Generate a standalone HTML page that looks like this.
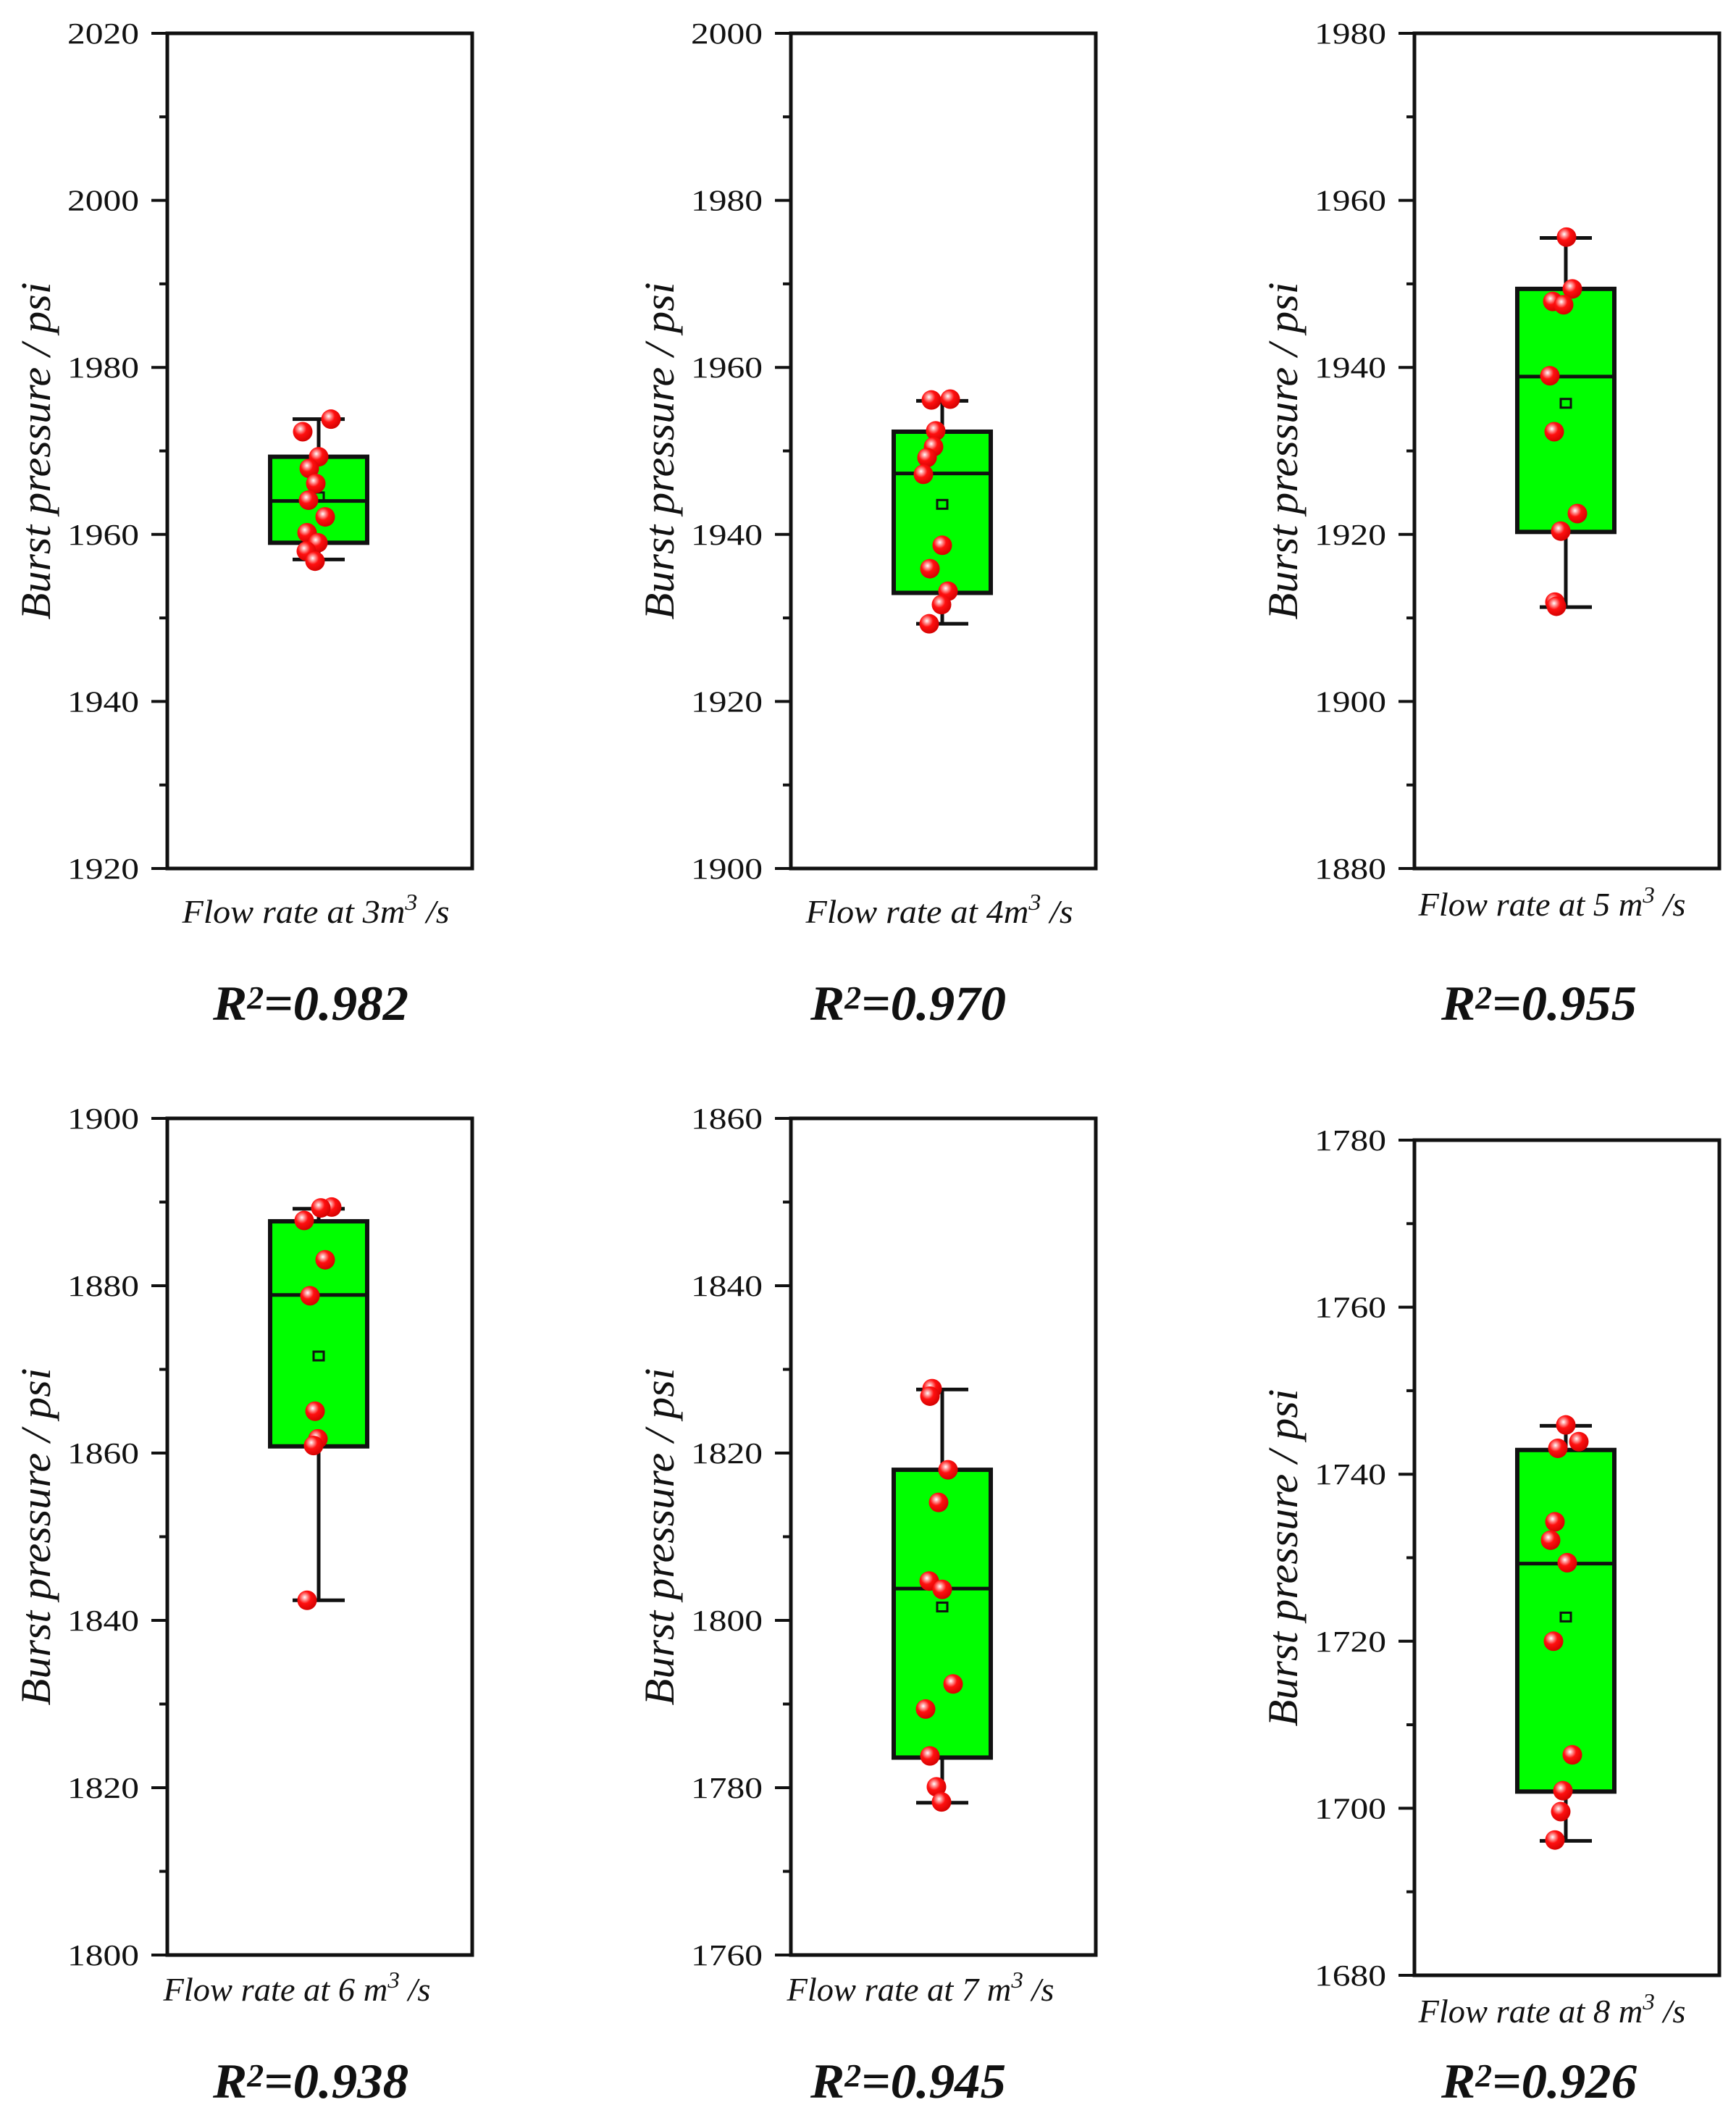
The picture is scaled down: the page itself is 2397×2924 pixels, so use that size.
<!DOCTYPE html>
<html><head><meta charset="utf-8"><style>
html,body{margin:0;padding:0;background:#fff;}
svg{display:block;}
text{font-family:"Liberation Serif","DejaVu Serif",serif;fill:#111;}
</style></head><body>
<svg id="fig" width="2397" height="2924" viewBox="0 0 2397 2924" xmlns="http://www.w3.org/2000/svg">
<defs>
<radialGradient id="ball" cx="0.38" cy="0.35" r="0.7">
<stop offset="0" stop-color="#fff"/><stop offset="0.18" stop-color="#ff9a9a"/><stop offset="0.45" stop-color="#ff1010"/><stop offset="1" stop-color="#d00000"/>
</radialGradient>
</defs>
</svg>
<script>
// ----- data -----
const flowRates = ["3m", "4m", "5 m", "6 m", "7 m", "8 m"];
const r2Labels = ["0.982", "0.970", "0.955", "0.938", "0.945", "0.926"];
const yMins = [1920, 1900, 1880, 1800, 1760, 1680];
const yMaxs = [2020, 2000, 1980, 1900, 1860, 1780];
const whiskerLow = [1957.0, 1929.3, 1911.3, 1842.4, 1778.2, 1696.1];
const q1Values = [1959.0, 1933.0, 1920.3, 1860.8, 1783.6, 1702.0];
const medianValues = [1964.0, 1947.3, 1938.9, 1878.9, 1803.8, 1729.3];
const q3Values = [1969.3, 1952.3, 1949.4, 1887.7, 1818.0, 1742.9];
const whiskerHigh = [1973.8, 1956.0, 1955.5, 1889.2, 1827.6, 1745.8];
const meanValues = [1964.5, 1943.6, 1935.7, 1871.6, 1801.6, 1722.9];
const points3 = [1973.8, 1972.3, 1969.3, 1967.9, 1966.1, 1964.1, 1962.1, 1960.2, 1959.0, 1958.0, 1956.8];
const points4 = [1956.1, 1956.2, 1952.4, 1950.5, 1949.2, 1947.2, 1938.7, 1935.9, 1933.2, 1931.6, 1929.3];
const points5 = [1955.6, 1949.4, 1947.9, 1947.5, 1939.0, 1932.3, 1922.5, 1920.4, 1911.9, 1911.4];
const points6 = [1889.4, 1889.3, 1887.8, 1883.1, 1878.8, 1865.0, 1861.7, 1860.9, 1842.4];
const points7 = [1827.7, 1826.8, 1818.0, 1814.1, 1804.7, 1803.7, 1792.4, 1789.4, 1783.8, 1780.1, 1778.3];
const points8 = [1745.9, 1743.9, 1743.1, 1734.3, 1732.1, 1729.4, 1720.0, 1706.4, 1702.1, 1699.6, 1696.2];
const pointSets = [points3, points4, points5, points6, points7, points8];
// horizontal jitter of scatter points (px)
const jitter3 = [17, -22, 0, -13, -4, -14, 9, -16, -1, -17, -5];
const jitter4 = [-15, 11, -9, -12, -21, -26, 0, -17, 8, -1, -18];
const jitter5 = [1, 9, -18, -3, -22, -16, 16, -7, -15, -13];
const jitter6 = [18, 3, -20, 9, -12, -5, -1, -7, -16];
const jitter7 = [-14, -17, 8, -5, -18, 0, 15, -23, -17, -8, -1];
const jitter8 = [0, 18, -11, -15, -21, 2, -17, 9, -4, -7, -15];
const jitterSets = [jitter3, jitter4, jitter5, jitter6, jitter7, jitter8];

// ----- layout -----
const NS = "http://www.w3.org/2000/svg";
const svg = document.getElementById("fig");
const lefts = [231, 1092, 1953, 231, 1092, 1953];
const tops = [46, 46, 46, 1544, 1544, 1574];
const bottoms = [1199, 1199, 1199, 2699, 2699, 2727];
const xLabelY = [1274, 1274, 1264, 2762, 2762, 2792];
const xLabelDX = [205, 205, 190, 179, 179, 190];
const r2Y = [1408, 1408, 1408, 2896, 2896, 2896];
const r2DX = [198, 162, 172, 198, 162, 172];
const W = 421;

function mk(tag, attrs, parent) {
  const e = document.createElementNS(NS, tag);
  for (const k in attrs) e.setAttribute(k, attrs[k]);
  (parent || svg).appendChild(e);
  return e;
}

for (let i = 0; i < 6; i++) {
  const L = lefts[i], T = tops[i], B = bottoms[i];
  const yScale = v => B - (v - yMins[i]) / (yMaxs[i] - yMins[i]) * (B - T);
  const cx = L + 209;
  const g = mk("g", {});
  
  

  const fr = mk("rect", {x: L, y: T, width: W, height: B - T, fill: "none", stroke: "#111", "stroke-width": 5}, g);
  
  

  for (let v = yMins[i]; v <= yMaxs[i] + 0.01; v += 10) {
    const y = yScale(v);
    const major = Math.round(v - yMins[i]) % 20 === 0;
    const t = mk("line", {x1: L - (major ? 22 : 11), x2: L, y1: y, y2: y, stroke: "#111", "stroke-width": 4}, g);
    
    
    if (major) {
      const tl = mk("text", {x: L - 39, y: y + 14, "text-anchor": "end", "font-size": 41, textLength: 99, lengthAdjust: "spacingAndGlyphs", fill: "#222"}, g);
      tl.textContent = String(v);
      
      
    }
  }

  const ymid = (T + B) / 2;
  const yt = mk("text", {x: 0, y: 0, transform: `translate(${L - 162} ${ymid}) rotate(-90)`, "text-anchor": "middle", "font-size": 58, "font-style": "italic", textLength: 466, lengthAdjust: "spacingAndGlyphs"}, g);
  yt.textContent = "Burst pressure / psi";
  
  

  const wl = mk("line", {x1: cx, x2: cx, y1: yScale(whiskerHigh[i]), y2: yScale(whiskerLow[i]), stroke: "#111", "stroke-width": 5}, g);
  
  
  [whiskerHigh[i], whiskerLow[i]].forEach(v => {
    const c = mk("line", {x1: cx - 36, x2: cx + 36, y1: yScale(v), y2: yScale(v), stroke: "#111", "stroke-width": 5}, g);
    
    
  });
  const bx = mk("rect", {x: cx - 67, y: yScale(q3Values[i]), width: 134, height: yScale(q1Values[i]) - yScale(q3Values[i]), fill: "#00ff00", stroke: "#111", "stroke-width": 6}, g);
  
  
  const md = mk("line", {x1: cx - 67, x2: cx + 67, y1: yScale(medianValues[i]), y2: yScale(medianValues[i]), stroke: "#111", "stroke-width": 5}, g);
  
  
  const mn = mk("rect", {x: cx - 7, y: yScale(meanValues[i]) - 6, width: 14, height: 12, fill: "none", stroke: "#111", "stroke-width": 3}, g);
  
  

  pointSets[i].forEach((v, k) => {
    const p = mk("circle", {cx: cx + jitterSets[i][k], cy: yScale(v), r: 13.5, fill: "url(#ball)"}, g);
    
    
  });

  const xl = mk("text", {x: L + xLabelDX[i], y: xLabelY[i], "text-anchor": "middle", "font-size": 45, "font-style": "italic", fill: "#333", textLength: 369, lengthAdjust: "spacingAndGlyphs"}, g);
  
  
  xl.appendChild(document.createTextNode("Flow rate at " + flowRates[i]));
  const sup = mk("tspan", {dy: -18, "font-size": 32}, xl);
  sup.textContent = "3";
  const rest = mk("tspan", {dy: 18}, xl);
  rest.textContent = " /s";

  const r = mk("text", {x: L + r2DX[i], y: r2Y[i], "text-anchor": "middle", "font-size": 68, "font-style": "italic", "font-weight": "bold", textLength: 270, lengthAdjust: "spacingAndGlyphs"}, g);
  
  
  r.appendChild(document.createTextNode("R"));
  const s2 = mk("tspan", {dy: -16, "font-size": 44}, r);
  s2.textContent = "2";
  const rv = mk("tspan", {dy: 16}, r);
  rv.textContent = "=" + r2Labels[i];
}
</script>
</body></html>
